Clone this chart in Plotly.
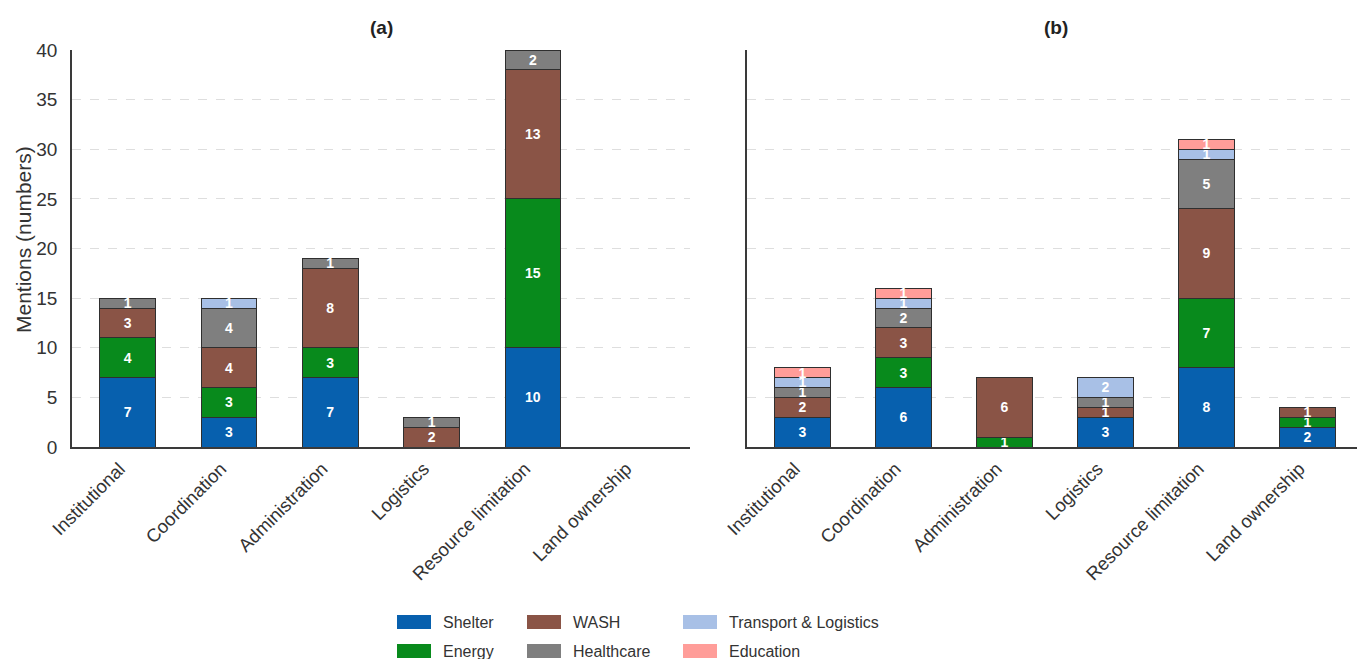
import plotly.graph_objects as go

W, H = 1357, 659

categories = ["Institutional", "Coordination", "Administration", "Logistics",
              "Resource limitation", "Land ownership"]
sectors = ["Shelter", "Energy", "WASH", "Healthcare", "Transport & Logistics", "Education"]
colors = ["#0760AE", "#088A1C", "#8A5446", "#7F7F7F", "#A8C0E6", "#FF9D99"]

# Panel (a) mentions per sector
shelter_a = [7, 3, 7, 0, 10, 0]
energy_a = [4, 3, 3, 0, 15, 0]
wash_a = [3, 4, 8, 2, 13, 0]
health_a = [1, 4, 1, 1, 2, 0]
transport_a = [0, 1, 0, 0, 0, 0]
education_a = [0, 0, 0, 0, 0, 0]

# Panel (b) mentions per sector
shelter_b = [3, 6, 0, 3, 8, 2]
energy_b = [0, 3, 1, 0, 7, 1]
wash_b = [2, 3, 6, 1, 9, 1]
health_b = [1, 2, 0, 1, 5, 0]
transport_b = [1, 1, 0, 2, 1, 0]
education_b = [1, 1, 0, 0, 1, 0]

y_ticks = [0, 5, 10, 15, 20, 25, 30, 35, 40]

panel_a = [shelter_a, energy_a, wash_a, health_a, transport_a, education_a]
panel_b = [shelter_b, energy_b, wash_b, health_b, transport_b, education_b]

FONT = "Liberation Sans, Arial, sans-serif"


def px(x):
    return x / W


def py(y):
    return 1 - y / H


fig = go.Figure()

for panel, xa, ya in [(panel_a, "x", "y"), (panel_b, "x2", "y2")]:
    for name, vals, col in zip(sectors, panel, colors):
        yv = [v if v else None for v in vals]
        fig.add_trace(go.Bar(
            x=categories, y=yv, name=name, xaxis=xa, yaxis=ya,
            marker=dict(color=col, line=dict(color="#2f2f2f", width=1)),
            text=[str(v) if v else "" for v in vals],
            textposition="inside", insidetextanchor="middle",
            textangle=0, constraintext="none",
            textfont=dict(family=FONT, size=14, color="white", weight="bold"),
            showlegend=False, hoverinfo="x+y+name",
        ))

axis_common = dict(
    showline=True, linecolor="#3a3a3a", linewidth=1.5, automargin=False,
)
y_common = dict(
    range=[0, 40], tickvals=y_ticks, showgrid=True, gridcolor="#dedede",
    griddash="dash", gridwidth=1, zeroline=False, ticks="",
    tickfont=dict(family=FONT, size=19, color="#333"),
    domain=[py(447), py(50)], **axis_common,
)
x_common = dict(
    type="category", tickangle=-45, showgrid=False, ticks="",
    zeroline=False, ticklabelshift=-8, ticklabelstandoff=2,
    tickfont=dict(family=FONT, size=18.5, color="#333"),
    **axis_common,
)

fig.update_layout(
    width=W, height=H,
    margin=dict(l=0, r=0, t=0, b=0, autoexpand=False),
    paper_bgcolor="white", plot_bgcolor="white",
    barmode="stack", bargap=0.45,
    uniformtext=dict(minsize=14, mode="show"),
    font=dict(family=FONT, color="#333"),
    xaxis=dict(domain=[px(72), px(690)], range=[-0.55, 5.55], anchor="y", **x_common),
    yaxis=dict(anchor="x", ticklabelstandoff=9, **y_common),
    xaxis2=dict(domain=[px(747), 1.0], range=[-0.55, 5.49], anchor="y2", **x_common),
    yaxis2=dict(anchor="x2", showticklabels=False, **y_common),
)

annotations = [
    dict(text="<b>(a)</b>", x=px(381), y=py(28), xref="paper", yref="paper",
         xanchor="center", yanchor="middle",
         showarrow=False, font=dict(family=FONT, size=19, color="#222")),
    dict(text="<b>(b)</b>", x=px(1056), y=py(28), xref="paper", yref="paper",
         xanchor="center", yanchor="middle",
         showarrow=False, font=dict(family=FONT, size=19, color="#222")),
    dict(text="Mentions (numbers)", x=px(23), y=py(240), xref="paper", yref="paper",
         xanchor="center", yanchor="middle",
         textangle=-90, showarrow=False, font=dict(family=FONT, size=21, color="#333")),
]

# Legend laid out in three columns of two rows
col_x = [397, 527, 683]
row_y = [622, 651]
shapes = []
for i, (name, col) in enumerate(zip(sectors, colors)):
    c, r = i // 2, i % 2
    x0 = col_x[c]
    yc = row_y[r]
    shapes.append(dict(type="rect", xref="paper", yref="paper",
                       x0=px(x0), x1=px(x0 + 34), y0=py(yc + 7), y1=py(yc - 7),
                       fillcolor=col, line=dict(width=0)))
    annotations.append(dict(text=name, x=px(x0 + 44), y=py(yc), xref="paper", yref="paper",
                            xanchor="left", yanchor="middle", showarrow=False,
                            font=dict(family=FONT, size=16, color="#333")))

fig.update_layout(annotations=annotations, shapes=shapes)

fig.write_html("out.html")
